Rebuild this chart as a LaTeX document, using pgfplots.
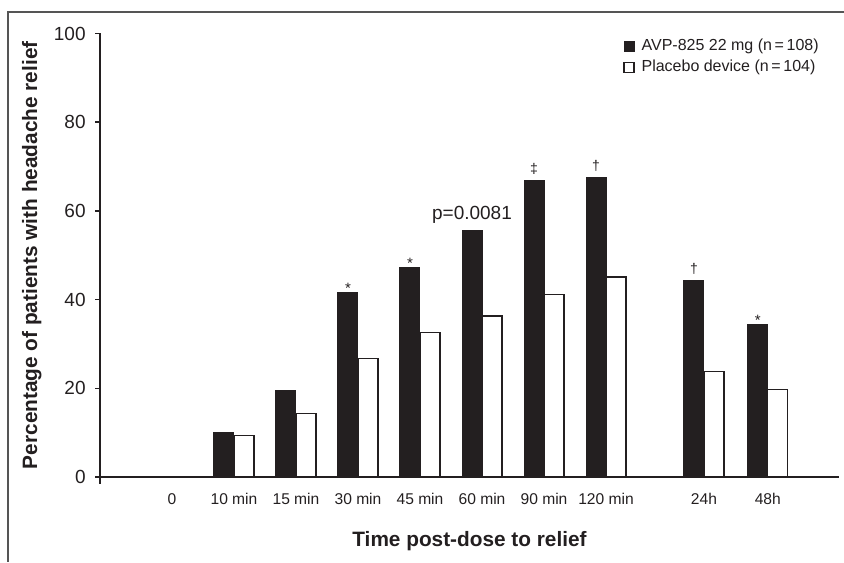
\documentclass[border=0pt]{standalone}
\usepackage{pgfplots}
\pgfplotsset{compat=1.18}
\usepackage{fontspec}
\setmainfont{Liberation Sans}
\definecolor{ink}{HTML}{231F20}
\definecolor{framec}{HTML}{555555}
\newcommand\nolab{}
\newcommand\st{\raisebox{-0.5pt}{\fontsize{7.5}{8}\selectfont *}}
\newcommand\dg{\raisebox{3.3pt}{\fontsize{7}{8}\selectfont †}}
\newcommand\ddg{\raisebox{3.3pt}{\fontsize{7}{8}\selectfont ‡}}
\newcommand\pv{\raisebox{5.5pt}{\fontsize{9.5}{11}\selectfont p=0.0081}}
\begin{document}
\begin{tikzpicture}
\useasboundingbox (-50pt,-42.5pt) rectangle (372pt,238.5pt);
\draw[line width=0.6pt, framec] (372pt,232.5pt) -- (-46pt,232.5pt) -- (-46pt,-42.5pt);
\begin{axis}[
  at={(0,0)}, anchor=south west,
  scale only axis, width=369.5pt, height=221.75pt,
  xmin=-1.161, xmax=10.758, ymin=0, ymax=100,
  axis x line=bottom, axis y line=left,
  axis line style={-, line width=0.7pt, ink},
  ybar=0pt, bar width=10pt,
  clip=false,
  ytick={0,20,40,60,80,100},
  xtick={0,1,2,3,4,5,6,7,8.58,9.61},
  xticklabels={0,10 min,15 min,30 min,45 min,60 min,90 min,120 min,24h,48h},
  tick align=outside, major tick length=2.5pt,
  xtick style={draw=none},
  ytick style={line width=0.7pt, ink},
  /pgf/number format/assume math mode=true,
  yticklabel style={font=\fontsize{9.5}{11}\selectfont, text=ink, inner sep=0pt, xshift=-4.5pt},
  xticklabel style={font=\fontsize{7.8}{9}\selectfont, text=ink, inner sep=0pt, anchor=north, yshift=-5.5pt},
  xlabel={Time post-dose to relief},
  ylabel={Percentage of patients with headache relief},
  xlabel style={font=\bfseries\fontsize{10.4}{12}\selectfont, text=ink, at={(axis description cs:0.5,-0.1578)}, anchor=base},
  ylabel style={font=\bfseries\fontsize{10.4}{12}\selectfont, text=ink, at={(axis description cs:-0.08525,0.5)}, anchor=base},
  legend style={at={(axis description cs:0.7077,0.99)}, anchor=north west, draw=none, fill=none, inner sep=0pt,
    font=\fontsize{8}{9}\selectfont, text=ink, row sep=2.7pt,
    nodes={inner sep=0pt, text height=6pt, text depth=1.8pt}},
  legend cell align=left,
]
\addplot[fill=ink, draw=ink, line width=0.5pt,
  legend image code/.code={\draw[fill=ink, draw=ink, line width=0.5pt] (0pt,-2.5pt) rectangle (5pt,2.5pt); \path (8.5pt,0pt);},
  point meta=explicit symbolic,
  nodes near coords,
  every node near coord/.append style={anchor=base, inner sep=0pt, text=ink, font=\fontsize{8}{9}\selectfont}]
coordinates {
 (1,10.1) [\nolab]
 (2,19.5) [\nolab]
 (3,41.6) [\st]
 (4,47.2) [\st]
 (5,55.5) [\pv]
 (6,66.9) [\ddg]
 (7,67.6) [\dg]
 (8.58,44.4) [\dg]
 (9.61,34.4) [\st]
};
\addlegendentry{AVP-825 22 mg (n\,=\,108)}
\addplot[fill=white, draw=ink, line width=0.6pt,
  legend image code/.code={\draw[fill=white, draw=ink, line width=0.6pt] (0pt,-2.5pt) rectangle (5pt,2.5pt); \path (8.5pt,0pt);}]
coordinates {
 (1,9.3) (2,14.4) (3,26.8) (4,32.5) (5,36.3) (6,41.2) (7,45.1) (8.58,23.7) (9.61,19.8)
};
\addlegendentry{Placebo device (n\,=\,104)}
\draw[line width=0.7pt, ink] (rel axis cs:0,0) -- ++(0pt,-3.5pt);
\end{axis}
\end{tikzpicture}
\end{document}
